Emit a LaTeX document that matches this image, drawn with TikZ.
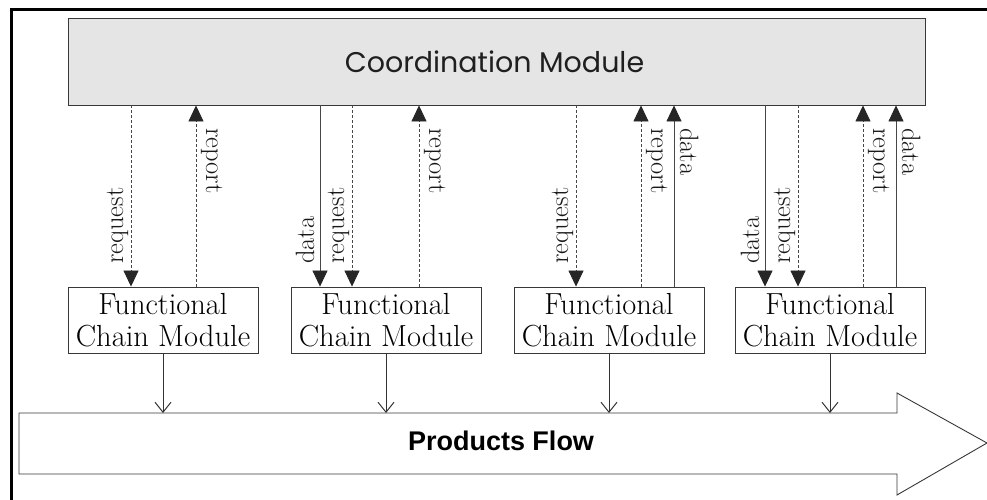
\documentclass[tikz,border=0pt]{standalone}
\usepackage{fontspec}
\newfontfamily\geofont{Poppins}
\newfontfamily\arialfont{Liberation Sans}
\usetikzlibrary{arrows.meta}
\begin{document}
\begin{tikzpicture}[x=1pt,y=-1pt,
  boxline/.style={draw=black!78,line width=0.9pt},
  fcm/.style={boxline,rectangle,inner sep=0pt,minimum width=190pt,minimum height=66pt,align=center,font=\fontsize{30.5}{32}\selectfont},
  tipA/.style={-{Triangle[length=16pt,width=15pt,color=black!85]}},
  dashline/.style={draw=black!72,line width=0.8pt,dash pattern=on 3pt off 2pt,tipA},
  solidline/.style={draw=black!72,line width=0.8pt,tipA},
  lbl/.style={inner sep=0pt,font=\fontsize{26.5}{30}\selectfont,text=black!90},
  uplbl/.style={lbl,rotate=90,anchor=base west},
  dnlbl/.style={lbl,rotate=-90,anchor=base west},
  flowarrow/.style={draw=black!80,line width=0.9pt,-{Straight Barb[length=10pt,width=16pt,line width=1pt]}}
]
\useasboundingbox (0,0) rectangle (987,500);
% outer frame
\draw[line width=3pt,line cap=rect] (11,500) -- (11,10) -- (987,10);

% coordination module
\node[boxline,fill=black!10,rectangle,minimum width=857pt,minimum height=87pt,inner sep=0pt] (cm) at (496.5,61.5) {};
\node[font=\geofont\fontsize{28.5}{32}\selectfont,text=black!88,inner sep=0pt] (cmt) at (494.5,62) {Coordination Module};

% functional chain modules
\node[fcm] (f1) at (163,320) {Functional\\Chain Module};
\node[fcm] (f2) at (386,320) {Functional\\Chain Module};
\node[fcm] (f3) at (609,320) {Functional\\Chain Module};
\node[fcm] (f4) at (830,320) {Functional\\Chain Module};

% column coordinates
\coordinate (a1) at (131,0);
\coordinate (a2) at (196,0);
\coordinate (b1) at (320,0);
\coordinate (b2) at (352,0);
\coordinate (b3) at (419,0);
\coordinate (c1) at (576,0);
\coordinate (c2) at (641,0);
\coordinate (c3) at (674,0);
\coordinate (d1) at (765,0);
\coordinate (d2) at (798,0);
\coordinate (d3) at (863,0);
\coordinate (d4) at (896,0);

% module 1
\draw[dashline] (cm.south -| a1) -- (f1.north -| a1);
\draw[dashline] (f1.north -| a2) -- (cm.south -| a2);
\node[uplbl] (l1) at (123,264) {request};
\node[dnlbl] (l2) at (206,128) {report};

% module 2
\draw[solidline] (cm.south -| b1) -- (f2.north -| b1);
\draw[dashline] (cm.south -| b2) -- (f2.north -| b2);
\draw[dashline] (f2.north -| b3) -- (cm.south -| b3);
\node[uplbl] (l3) at (314,264) {data};
\node[uplbl] (l4) at (344,264) {request};
\node[dnlbl] (l5) at (429,128) {report};

% module 3
\draw[dashline] (cm.south -| c1) -- (f3.north -| c1);
\draw[dashline] (f3.north -| c2) -- (cm.south -| c2);
\draw[solidline] (f3.north -| c3) -- (cm.south -| c3);
\node[uplbl] (l6) at (568,264) {request};
\node[dnlbl] (l7) at (651,128) {report};
\node[dnlbl] (l8) at (680,128) {data};

% module 4
\draw[solidline] (cm.south -| d1) -- (f4.north -| d1);
\draw[dashline] (cm.south -| d2) -- (f4.north -| d2);
\draw[dashline] (f4.north -| d3) -- (cm.south -| d3);
\draw[solidline] (f4.north -| d4) -- (cm.south -| d4);
\node[uplbl] (l9) at (759,264) {data};
\node[uplbl] (l10) at (790,264) {request};
\node[dnlbl] (l11) at (873,128) {report};
\node[dnlbl] (l12) at (902,128) {data};

% products flow arrow
\draw[boxline,fill=white] (19,413) -- (897,413) -- (897,393) -- (987,443) -- (897,495) -- (897,474) -- (19,474) -- cycle;
\coordinate (pf) at (0,413);
\node[font=\arialfont\bfseries\fontsize{27}{30}\selectfont,inner sep=0pt] (pft) at (501,441) {Products Flow};

\draw[flowarrow] (f1.south) -- (f1.south |- pf);
\draw[flowarrow] (f2.south) -- (f2.south |- pf);
\draw[flowarrow] (f3.south) -- (f3.south |- pf);
\draw[flowarrow] (f4.south) -- (f4.south |- pf);
\end{tikzpicture}
\end{document}
